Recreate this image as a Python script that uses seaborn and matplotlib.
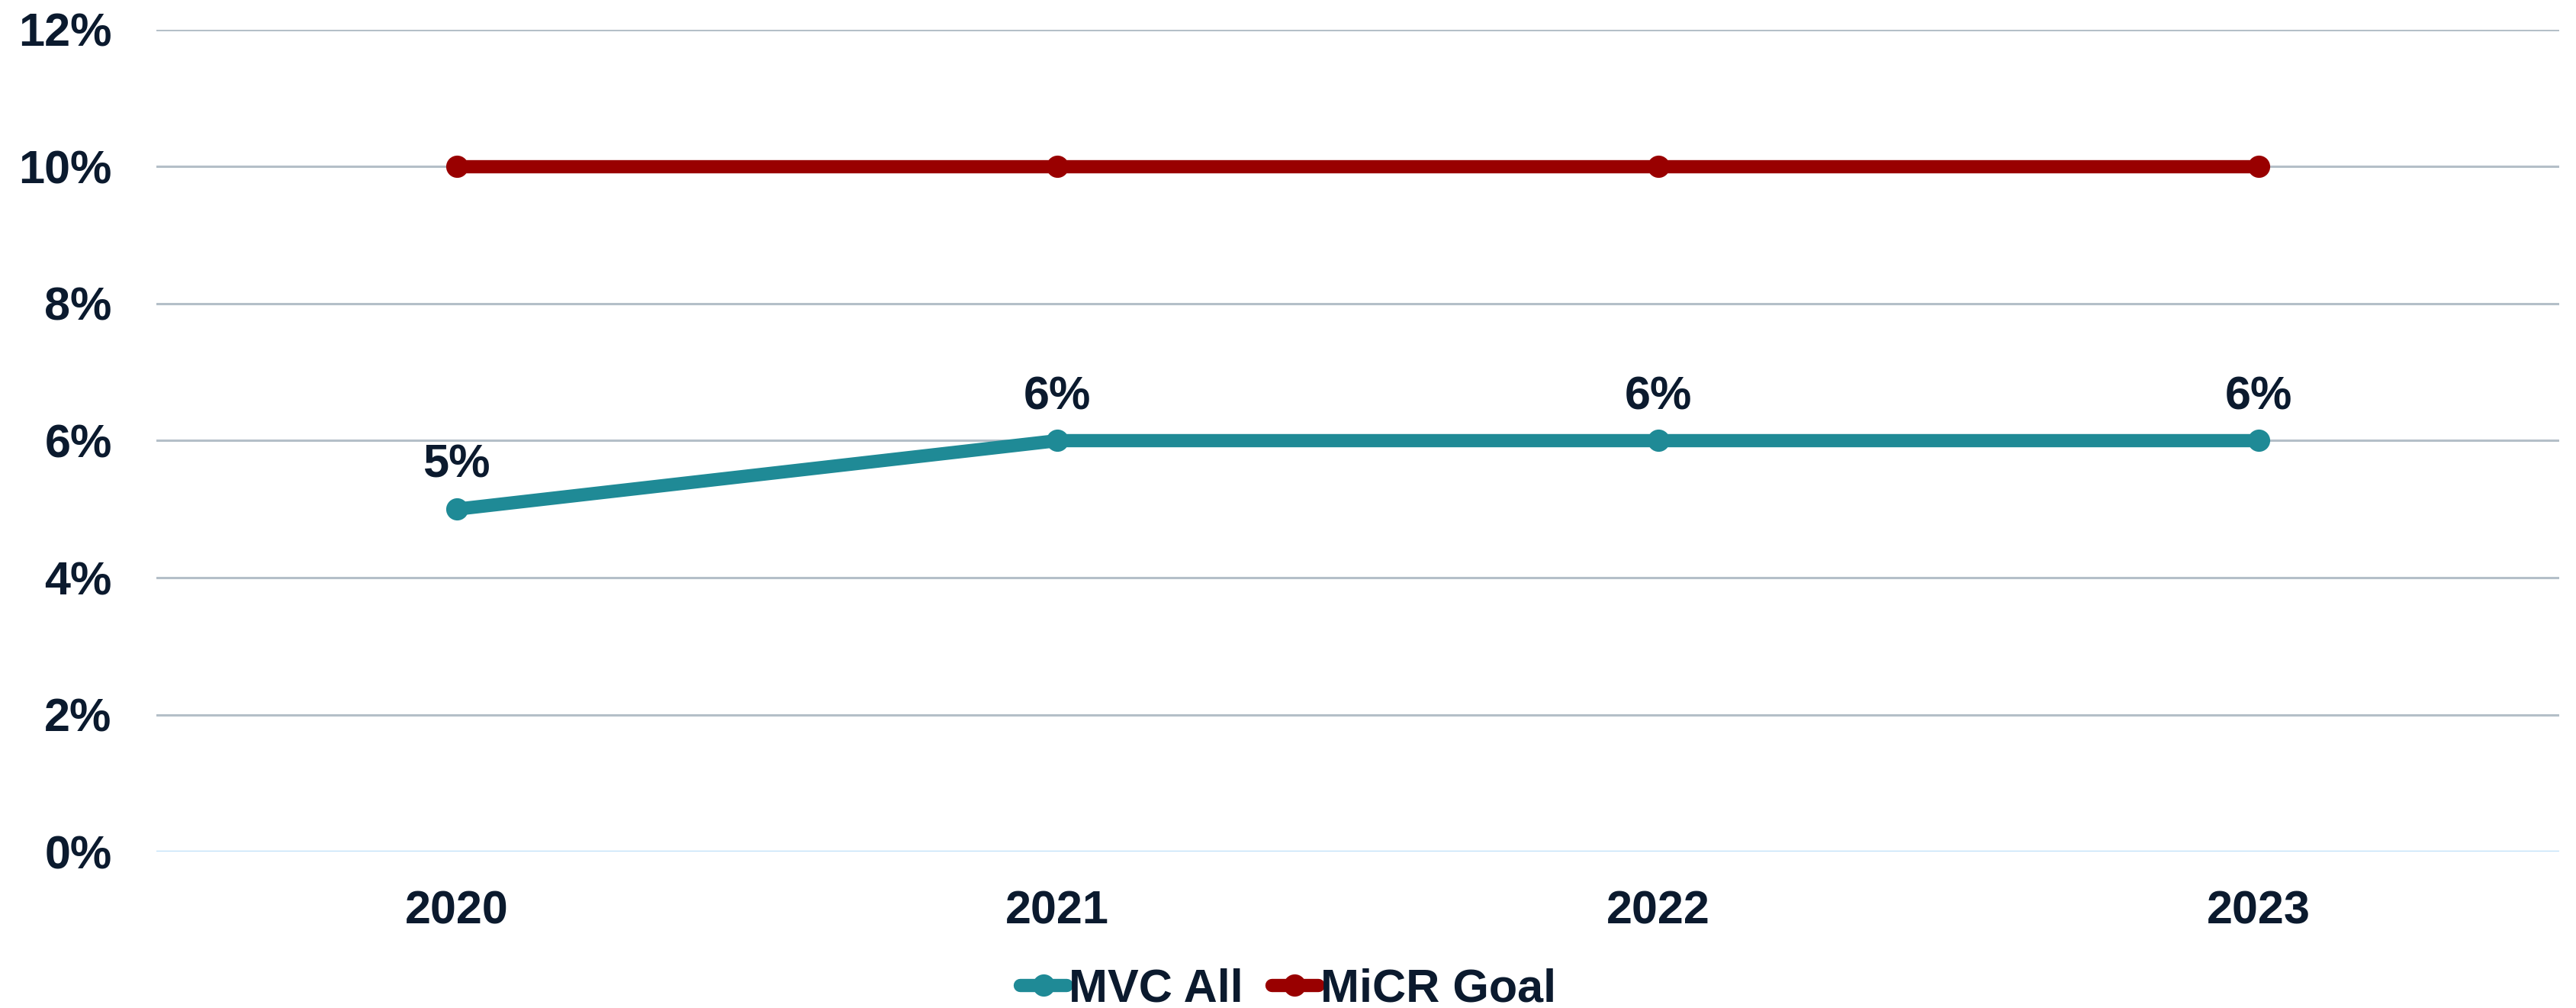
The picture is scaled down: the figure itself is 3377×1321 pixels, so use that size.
import matplotlib
matplotlib.use("Agg")
import matplotlib.pyplot as plt
import seaborn as sns
import pandas as pd
from matplotlib.ticker import FuncFormatter

years = ["2020", "2021", "2022", "2023"]
mvc_all = [0.05, 0.06, 0.06, 0.06]
micr_goal = [0.10, 0.10, 0.10, 0.10]
mvc_labels = ["5%", "6%", "6%", "6%"]
series_names = ["MVC All", "MiCR Goal"]
y_ticks = [0.0, 0.02, 0.04, 0.06, 0.08, 0.10, 0.12]

df = pd.DataFrame({
    "Year": years * 2,
    "Value": mvc_all + micr_goal,
    "Series": [series_names[0]] * len(years) + [series_names[1]] * len(years),
})

sns.set_theme(style="white")
plt.rcParams["font.family"] = ["Liberation Sans", "DejaVu Sans"]

TEXT = "#0B1A2E"
FS = 44
palette = {"MVC All": "#1F8A96", "MiCR Goal": "#990000"}

fig = plt.figure(figsize=(33.77, 13.21), dpi=100)
ax = fig.add_axes([0.0607, 0.155, 0.9328, 0.8157])

sns.lineplot(data=df, x="Year", y="Value", hue="Series", palette=palette,
             marker="o", markersize=21, linewidth=12.5, markeredgewidth=0,
             sort=False, ax=ax, zorder=3)

ax.set_xlim(-0.5, 3.5)
ax.set_ylim(0, 0.12)
ax.set_yticks(y_ticks)
ax.yaxis.set_major_formatter(FuncFormatter(lambda v, p: f"{v*100:.0f}%"))

for v in y_ticks[1:]:
    ax.axhline(v, color="#B4BFC8", linewidth=2.2, zorder=1)
ax.axhline(0, color="#BEE0F8", linewidth=2.5, zorder=1)

for s in ax.spines.values():
    s.set_visible(False)
ax.grid(False)
ax.set_xlabel("")
ax.set_ylabel("")
ax.tick_params(axis="both", length=0, labelsize=FS, colors=TEXT)
ax.tick_params(axis="y", pad=42)
ax.tick_params(axis="x", pad=36)
for lab in ax.get_xticklabels() + ax.get_yticklabels():
    lab.set_fontweight("bold")
    lab.set_color(TEXT)

for i, (v, t) in enumerate(zip(mvc_all, mvc_labels)):
    ax.annotate(t, (i, v), xytext=(0, 41), textcoords="offset points",
                ha="center", va="center", fontsize=FS, fontweight="bold",
                color=TEXT)

handles, labels = ax.get_legend_handles_labels()
ax.get_legend().remove()
leg = fig.legend(handles, labels, loc="center", bbox_to_anchor=(0.5, 0.018),
                 ncol=2, frameon=False, handlelength=1.0,
                 handletextpad=0.05, columnspacing=0.6,
                 prop={"weight": "bold", "size": FS})
for t in leg.get_texts():
    t.set_color(TEXT)

fig.savefig("out.png", dpi=100)
